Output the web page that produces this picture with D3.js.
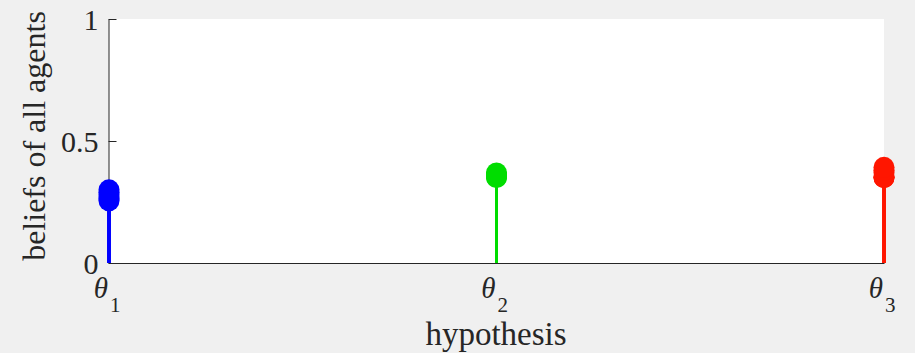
<!DOCTYPE html>
<html>
<head>
<meta charset="utf-8">
<script src="https://cdn.jsdelivr.net/npm/d3@7"></script>
<style>
  html, body { margin: 0; padding: 0; background: #f0f0f0; }
  svg { display: block; }
  text { font-family: "Liberation Serif", "Times New Roman", serif; fill: #262626; }
</style>
</head>
<body>
<svg id="chart" width="915" height="353"></svg>
<script>
// Hypothesis index on the x axis and its subscript label
const hypotheses = [1, 2, 3];
const hypothesisSubs = ["1", "2", "3"];
const hypothesisColors = ["#0000ff", "#00dd00", "#ff1600"];

// Belief of each agent in each hypothesis
const beliefsTheta1 = [0.300, 0.290, 0.280, 0.270, 0.262, 0.255];
const beliefsTheta2 = [0.350, 0.360, 0.369, 0.360, 0.358, 0.353];
const beliefsTheta3 = [0.350, 0.350, 0.351, 0.370, 0.380, 0.392];
const beliefs = [beliefsTheta1, beliefsTheta2, beliefsTheta3];

const yTicks = [0, 0.5, 1];
const yTickLabels = ["0", "0.5", "1"];

const svg = d3.select("#chart");
const plotLeft = 109, plotRight = 884, plotTop = 19, plotBottom = 263;

const x = d3.scaleLinear().domain([1, 3]).range([plotLeft, plotRight]);
const y = d3.scaleLinear().domain([0, 1]).range([plotBottom, plotTop]);

// plot area
svg.append("rect")
  .attr("x", plotLeft).attr("y", plotTop)
  .attr("width", plotRight - plotLeft).attr("height", plotBottom - plotTop)
  .attr("fill", "#ffffff");

// y axis, ticks pointing inward
const yAxis = d3.axisLeft(y)
  .tickValues(yTicks)
  .tickFormat((d, i) => yTickLabels[i])
  .tickSize(-8)
  .tickSizeOuter(0)
  .tickPadding(10);
const gy = svg.append("g").attr("transform", `translate(${plotLeft - 0.5},0)`).call(yAxis);
gy.select(".domain").attr("stroke", "#262626");
gy.selectAll(".tick line").attr("stroke", "#262626");
gy.selectAll(".tick text")
  .attr("font-family", "Liberation Serif, serif")
  .attr("font-size", 30)
  .attr("fill", "#262626")
  .attr("dy", "0.34em");

// x axis
const xAxis = d3.axisBottom(x)
  .tickValues(hypotheses)
  .tickFormat("")
  .tickSize(-8)
  .tickSizeOuter(0);
const gx = svg.append("g").attr("transform", `translate(0,${plotBottom})`).call(xAxis);
gx.select(".domain").attr("stroke", "#262626");
gx.selectAll(".tick line").attr("stroke", "#262626");

// theta tick labels with subscripts
hypotheses.forEach((h, i) => {
  const t = svg.append("text")
    .attr("x", x(h) - 2)
    .attr("y", 298)
    .attr("text-anchor", "middle")
    .attr("font-size", 29);
  t.append("tspan").attr("font-style", "italic").text("θ");
  t.append("tspan").attr("font-size", 21).attr("dx", 2).attr("dy", 14).text(hypothesisSubs[i]);
});

// axis titles
svg.append("text")
  .attr("x", 496).attr("y", 345)
  .attr("text-anchor", "middle")
  .attr("font-size", 33)
  .text("hypothesis");

svg.append("text")
  .attr("transform", "translate(45,136) rotate(-90)")
  .attr("text-anchor", "middle")
  .attr("font-size", 32)
  .text("beliefs of all agents");

// stems and markers, one per agent and hypothesis
hypotheses.forEach((h, i) => {
  const g = svg.append("g");
  g.selectAll("line.stem")
    .data(beliefs[i])
    .join("line")
    .attr("class", "stem")
    .attr("x1", x(h)).attr("x2", x(h))
    .attr("y1", y(0)).attr("y2", d => y(d))
    .attr("stroke", hypothesisColors[i])
    .attr("stroke-width", 3);
  g.selectAll("circle")
    .data(beliefs[i])
    .join("circle")
    .attr("cx", x(h))
    .attr("cy", d => y(d))
    .attr("r", 10.5)
    .attr("fill", hypothesisColors[i]);
});
</script>
</body>
</html>
